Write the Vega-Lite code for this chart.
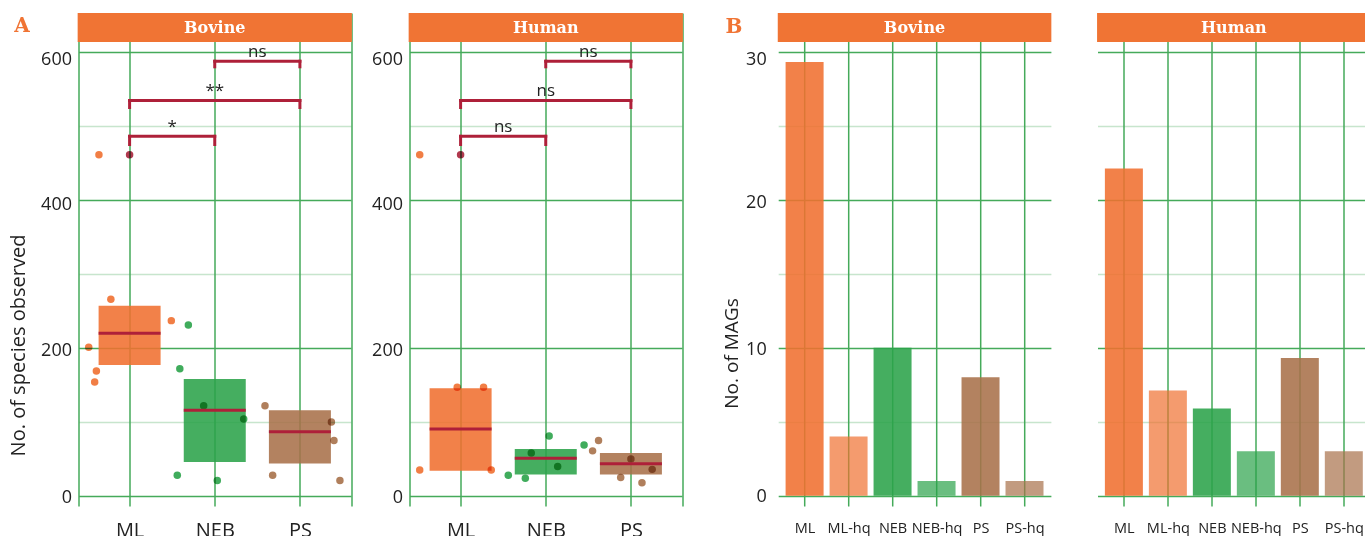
{
  "$schema": "https://vega.github.io/schema/vega-lite/v6.json",
  "padding": {"left": 8.5, "top": 13, "right": 0, "bottom": 0},
  "config": {
    "font": "Open Sans",
    "view": {"stroke": null},
    "axis": {"domain": false, "ticks": false, "labelColor": "#222", "titleColor": "#222", "titleFontWeight": "normal", "labelFont": "Open Sans", "titleFont": "Open Sans", "labelFlush": false, "labelOverlap": false}
  },
  "datasets": {
    "pts": [
      {"panel":"Bovine","grp":"ML","xj":0.64,"value":461,"outlier":false},
      {"panel":"Bovine","grp":"ML","xj":0.78,"value":266,"outlier":false},
      {"panel":"Bovine","grp":"ML","xj":0.52,"value":201,"outlier":false},
      {"panel":"Bovine","grp":"ML","xj":0.61,"value":169,"outlier":false},
      {"panel":"Bovine","grp":"ML","xj":0.59,"value":154,"outlier":false},
      {"panel":"Bovine","grp":"ML","xj":1.49,"value":237,"outlier":false},
      {"panel":"Bovine","grp":"NEB","xj":1.69,"value":231,"outlier":false},
      {"panel":"Bovine","grp":"NEB","xj":1.59,"value":172,"outlier":false},
      {"panel":"Bovine","grp":"NEB","xj":1.87,"value":122,"outlier":false},
      {"panel":"Bovine","grp":"NEB","xj":2.34,"value":104,"outlier":false},
      {"panel":"Bovine","grp":"NEB","xj":1.56,"value":28,"outlier":false},
      {"panel":"Bovine","grp":"NEB","xj":2.03,"value":21,"outlier":false},
      {"panel":"Bovine","grp":"PS","xj":2.59,"value":122,"outlier":false},
      {"panel":"Bovine","grp":"PS","xj":3.37,"value":100,"outlier":false},
      {"panel":"Bovine","grp":"PS","xj":3.40,"value":75,"outlier":false},
      {"panel":"Bovine","grp":"PS","xj":2.68,"value":28,"outlier":false},
      {"panel":"Bovine","grp":"PS","xj":3.47,"value":21,"outlier":false},
      {"panel":"Bovine","grp":"ML","xj":1.0,"value":461,"outlier":true},
      {"panel":"Human","grp":"ML","xj":0.52,"value":461,"outlier":false},
      {"panel":"Human","grp":"ML","xj":0.52,"value":35,"outlier":false},
      {"panel":"Human","grp":"ML","xj":0.96,"value":147,"outlier":false},
      {"panel":"Human","grp":"ML","xj":1.27,"value":147,"outlier":false},
      {"panel":"Human","grp":"ML","xj":1.36,"value":35,"outlier":false},
      {"panel":"Human","grp":"NEB","xj":1.56,"value":28,"outlier":false},
      {"panel":"Human","grp":"NEB","xj":1.76,"value":24,"outlier":false},
      {"panel":"Human","grp":"NEB","xj":1.83,"value":58,"outlier":false},
      {"panel":"Human","grp":"NEB","xj":2.04,"value":81,"outlier":false},
      {"panel":"Human","grp":"NEB","xj":2.14,"value":40,"outlier":false},
      {"panel":"Human","grp":"NEB","xj":2.45,"value":69,"outlier":false},
      {"panel":"Human","grp":"PS","xj":2.62,"value":75,"outlier":false},
      {"panel":"Human","grp":"PS","xj":2.55,"value":61,"outlier":false},
      {"panel":"Human","grp":"PS","xj":3.00,"value":50,"outlier":false},
      {"panel":"Human","grp":"PS","xj":3.25,"value":36,"outlier":false},
      {"panel":"Human","grp":"PS","xj":2.88,"value":25,"outlier":false},
      {"panel":"Human","grp":"PS","xj":3.13,"value":18,"outlier":false},
      {"panel":"Human","grp":"ML","xj":1.0,"value":461,"outlier":true}
    ],
    "box": [
      {"panel":"Bovine","grp":"ML","x":1,"lo":177,"mid":220,"hi":257},
      {"panel":"Bovine","grp":"NEB","x":2,"lo":46,"mid":116,"hi":158},
      {"panel":"Bovine","grp":"PS","x":3,"lo":44,"mid":87,"hi":116},
      {"panel":"Human","grp":"ML","x":1,"lo":34,"mid":90.5,"hi":145.5},
      {"panel":"Human","grp":"NEB","x":2,"lo":29,"mid":51,"hi":63.5},
      {"panel":"Human","grp":"PS","x":3,"lo":29,"mid":43.6,"hi":58}
    ],
    "brk": [
      {"panel":"Bovine","x1":1,"x2":2,"xm":1.5,"y":486,"ytip":475,"label":"*"},
      {"panel":"Bovine","x1":1,"x2":3,"xm":2,"y":534.5,"ytip":525,"label":"**"},
      {"panel":"Bovine","x1":2,"x2":3,"xm":2.5,"y":587.5,"ytip":580,"label":"ns"},
      {"panel":"Human","x1":1,"x2":2,"xm":1.5,"y":486,"ytip":475,"label":"ns"},
      {"panel":"Human","x1":1,"x2":3,"xm":2,"y":534.5,"ytip":525,"label":"ns"},
      {"panel":"Human","x1":2,"x2":3,"xm":2.5,"y":587.5,"ytip":580,"label":"ns"}
    ],
    "mag": [
      {"panel":"Bovine","cat":"ML","grp":"ML","x":1,"n":29.3,"hq":false},
      {"panel":"Bovine","cat":"ML-hq","grp":"ML","x":2,"n":4,"hq":true},
      {"panel":"Bovine","cat":"NEB","grp":"NEB","x":3,"n":10,"hq":false},
      {"panel":"Bovine","cat":"NEB-hq","grp":"NEB","x":4,"n":1,"hq":true},
      {"panel":"Bovine","cat":"PS","grp":"PS","x":5,"n":8,"hq":false},
      {"panel":"Bovine","cat":"PS-hq","grp":"PS","x":6,"n":1,"hq":true},
      {"panel":"Human","cat":"ML","grp":"ML","x":1,"n":22.1,"hq":false},
      {"panel":"Human","cat":"ML-hq","grp":"ML","x":2,"n":7.1,"hq":true},
      {"panel":"Human","cat":"NEB","grp":"NEB","x":3,"n":5.9,"hq":false},
      {"panel":"Human","cat":"NEB-hq","grp":"NEB","x":4,"n":3,"hq":true},
      {"panel":"Human","cat":"PS","grp":"PS","x":5,"n":9.3,"hq":false},
      {"panel":"Human","cat":"PS-hq","grp":"PS","x":6,"n":3,"hq":true}
    ]
  },
  "spacing": 38.7,
  "hconcat": [
    {
      "spacing": 19,
      "hconcat": [
        {
          "width": 272.5, "height": 493,
          "layer": [
            {"data": {"name": "box"}, "transform": [{"filter": "datum.panel === 'Bovine'"}],
             "mark": {"type": "bar", "width": 62, "opacity": 0.88},
             "encoding": {
               "x": {"field": "x", "type": "quantitative", "scale": {"domain": [0.4, 3.6], "nice": false, "zero": false, "padding": 0},
                     "axis": {"values": [0.4, 1, 2, 3, 3.6], "labelExpr": "datum.value == 1 ? 'ML' : datum.value == 2 ? 'NEB' : datum.value == 3 ? 'PS' : ''", "title": null, "grid": true, "gridColor": "#45AA5A", "gridWidth": 1.5, "labelFontSize": 20, "labelPadding": 14, "ticks": false, "domain": false, "labelOverlap": false, "labelFlush": false}},
               "y": {"field": "lo", "type": "quantitative", "scale": {"domain": [-13.5, 652.7], "nice": false, "zero": false, "padding": 0},
                     "axis": {"values": [0, 100, 200, 300, 400, 500, 600], "labelExpr": "datum.value % 200 == 0 ? datum.label : ''", "grid": true, "gridColor": "#45AA5A", "gridWidth": 1.5, "gridOpacity": {"condition": {"test": "datum.value % 200 == 0", "value": 1}, "value": 0.3}, "labelFontSize": 18, "labelPadding": 7, "labelOffset": {"condition": [{"test": "datum.value == 600", "value": 8}, {"test": "datum.value == 400", "value": 4}, {"test": "datum.value == 200", "value": 2}], "value": 1}, "title": "No. of species observed", "titleFontSize": 20, "titleX": -49.7, "titleY": 332, "ticks": false, "domain": false, "labelOverlap": false, "labelFlush": false}},
               "y2": {"field": "hi"},
               "color": {"field": "grp", "type": "nominal", "scale": {"domain": ["ML", "NEB", "PS"], "range": ["#F07030", "#2BA34A", "#A8714A"]}, "legend": null}
             }},
            {"data": {"name": "pts"}, "transform": [{"filter": "datum.panel === 'Bovine'"}],
             "mark": {"type": "circle", "size": 56, "opacity": 0.9, "blend": "multiply"},
             "encoding": {
               "x": {"field": "xj", "type": "quantitative"},
               "y": {"field": "value", "type": "quantitative"},
               "color": {"field": "grp", "type": "nominal", "legend": null, "condition": {"test": "datum.outlier", "value": "#A8233A"}}
             }},
            {"data": {"name": "box"}, "transform": [{"filter": "datum.panel === 'Bovine'"}],
             "mark": {"type": "tick", "orient": "horizontal", "size": 62, "thickness": 3, "color": "#AE2039", "opacity": 1},
             "encoding": {"x": {"field": "x", "type": "quantitative"}, "y": {"field": "mid", "type": "quantitative"}}},
            {"data": {"name": "brk"}, "transform": [{"filter": "datum.panel === 'Bovine'"}],
             "mark": {"type": "rule", "color": "#AE2039", "strokeWidth": 3, "strokeCap": "square"},
             "encoding": {"x": {"field": "x1", "type": "quantitative"}, "x2": {"field": "x2"}, "y": {"field": "y", "type": "quantitative"}}},
            {"data": {"name": "brk"}, "transform": [{"filter": "datum.panel === 'Bovine'"}],
             "mark": {"type": "rule", "color": "#AE2039", "strokeWidth": 3, "strokeCap": "square"},
             "encoding": {"x": {"field": "x1", "type": "quantitative"}, "y": {"field": "y", "type": "quantitative"}, "y2": {"field": "ytip"}}},
            {"data": {"name": "brk"}, "transform": [{"filter": "datum.panel === 'Bovine'"}],
             "mark": {"type": "rule", "color": "#AE2039", "strokeWidth": 3, "strokeCap": "square"},
             "encoding": {"x": {"field": "x2", "type": "quantitative"}, "y": {"field": "y", "type": "quantitative"}, "y2": {"field": "ytip"}}},
            {"data": {"name": "brk"}, "transform": [{"filter": "datum.panel === 'Bovine'"}],
             "mark": {"type": "text", "fontSize": 17, "baseline": "alphabetic", "dy": -4, "color": "#222"},
             "encoding": {"x": {"field": "xm", "type": "quantitative"}, "y": {"field": "y", "type": "quantitative"}, "text": {"field": "label"}}},
            {"data": {"values": [{"panel": "Bovine", "tag": "A"}]},
             "mark": {"type": "rect", "color": "#F07434"},
             "encoding": {"x": {"datum": 0.39, "type": "quantitative"}, "x2": {"datum": 3.61}, "y": {"datum": 613.5, "type": "quantitative"}, "y2": {"datum": 652.7}}},
            {"data": {"values": [{"panel": "Bovine", "tag": "A"}]},
             "mark": {"type": "text", "font": "DejaVu Serif", "fontWeight": "bold", "fontSize": 16, "color": "white", "baseline": "middle"},
             "encoding": {"x": {"datum": 2, "type": "quantitative"}, "y": {"datum": 633.1, "type": "quantitative"}, "text": {"field": "panel"}}},
            {"data": {"values": [{"panel": "Bovine", "tag": "A"}]},
             "mark": {"type": "text", "font": "DejaVu Serif", "fontWeight": "bold", "fontSize": 20, "color": "#F07434", "baseline": "middle"},
             "encoding": {"x": {"datum": -0.263, "type": "quantitative"}, "y": {"datum": 634.5, "type": "quantitative"}, "text": {"field": "tag"}}}
          ]
        },
        {
          "width": 272.5, "height": 493,
          "layer": [
            {"data": {"name": "box"}, "transform": [{"filter": "datum.panel === 'Human'"}],
             "mark": {"type": "bar", "width": 62, "opacity": 0.88},
             "encoding": {
               "x": {"field": "x", "type": "quantitative", "scale": {"domain": [0.4, 3.6], "nice": false, "zero": false, "padding": 0},
                     "axis": {"values": [0.4, 1, 2, 3, 3.6], "labelExpr": "datum.value == 1 ? 'ML' : datum.value == 2 ? 'NEB' : datum.value == 3 ? 'PS' : ''", "title": null, "grid": true, "gridColor": "#45AA5A", "gridWidth": 1.5, "labelFontSize": 20, "labelPadding": 14, "ticks": false, "domain": false, "labelOverlap": false, "labelFlush": false}},
               "y": {"field": "lo", "type": "quantitative", "scale": {"domain": [-13.5, 652.7], "nice": false, "zero": false, "padding": 0},
                     "axis": {"values": [0, 100, 200, 300, 400, 500, 600], "labelExpr": "datum.value % 200 == 0 ? datum.label : ''", "grid": true, "gridColor": "#45AA5A", "gridWidth": 1.5, "gridOpacity": {"condition": {"test": "datum.value % 200 == 0", "value": 1}, "value": 0.3}, "labelFontSize": 18, "labelPadding": 7, "labelOffset": {"condition": [{"test": "datum.value == 600", "value": 8}, {"test": "datum.value == 400", "value": 4}, {"test": "datum.value == 200", "value": 2}], "value": 1}, "title": null, "ticks": false, "domain": false, "labelOverlap": false, "labelFlush": false}},
               "y2": {"field": "hi"},
               "color": {"field": "grp", "type": "nominal", "scale": {"domain": ["ML", "NEB", "PS"], "range": ["#F07030", "#2BA34A", "#A8714A"]}, "legend": null}
             }},
            {"data": {"name": "pts"}, "transform": [{"filter": "datum.panel === 'Human'"}],
             "mark": {"type": "circle", "size": 56, "opacity": 0.9, "blend": "multiply"},
             "encoding": {
               "x": {"field": "xj", "type": "quantitative"},
               "y": {"field": "value", "type": "quantitative"},
               "color": {"field": "grp", "type": "nominal", "legend": null, "condition": {"test": "datum.outlier", "value": "#A8233A"}}
             }},
            {"data": {"name": "box"}, "transform": [{"filter": "datum.panel === 'Human'"}],
             "mark": {"type": "tick", "orient": "horizontal", "size": 62, "thickness": 3, "color": "#AE2039", "opacity": 1},
             "encoding": {"x": {"field": "x", "type": "quantitative"}, "y": {"field": "mid", "type": "quantitative"}}},
            {"data": {"name": "brk"}, "transform": [{"filter": "datum.panel === 'Human'"}],
             "mark": {"type": "rule", "color": "#AE2039", "strokeWidth": 3, "strokeCap": "square"},
             "encoding": {"x": {"field": "x1", "type": "quantitative"}, "x2": {"field": "x2"}, "y": {"field": "y", "type": "quantitative"}}},
            {"data": {"name": "brk"}, "transform": [{"filter": "datum.panel === 'Human'"}],
             "mark": {"type": "rule", "color": "#AE2039", "strokeWidth": 3, "strokeCap": "square"},
             "encoding": {"x": {"field": "x1", "type": "quantitative"}, "y": {"field": "y", "type": "quantitative"}, "y2": {"field": "ytip"}}},
            {"data": {"name": "brk"}, "transform": [{"filter": "datum.panel === 'Human'"}],
             "mark": {"type": "rule", "color": "#AE2039", "strokeWidth": 3, "strokeCap": "square"},
             "encoding": {"x": {"field": "x2", "type": "quantitative"}, "y": {"field": "y", "type": "quantitative"}, "y2": {"field": "ytip"}}},
            {"data": {"name": "brk"}, "transform": [{"filter": "datum.panel === 'Human'"}],
             "mark": {"type": "text", "fontSize": 17, "baseline": "alphabetic", "dy": -4, "color": "#222"},
             "encoding": {"x": {"field": "xm", "type": "quantitative"}, "y": {"field": "y", "type": "quantitative"}, "text": {"field": "label"}}},
            {"data": {"values": [{"panel": "Human"}]},
             "mark": {"type": "rect", "color": "#F07434"},
             "encoding": {"x": {"datum": 0.39, "type": "quantitative"}, "x2": {"datum": 3.61}, "y": {"datum": 613.5, "type": "quantitative"}, "y2": {"datum": 652.7}}},
            {"data": {"values": [{"panel": "Human"}]},
             "mark": {"type": "text", "font": "DejaVu Serif", "fontWeight": "bold", "fontSize": 16, "color": "white", "baseline": "middle"},
             "encoding": {"x": {"datum": 2, "type": "quantitative"}, "y": {"datum": 633.1, "type": "quantitative"}, "text": {"field": "panel"}}}
          ]
        }
      ]
    },
    {
      "spacing": 44.3,
      "hconcat": [
        {
          "width": 272.7, "height": 493,
          "layer": [
            {"mark": {"type": "rule", "color": "#45AA5A", "strokeWidth": 1.5},
             "encoding": {"x": {"datum": 0.4, "type": "quantitative"}}},
            {"mark": {"type": "rule", "color": "#45AA5A", "strokeWidth": 1.5},
             "encoding": {"x": {"datum": 6.6, "type": "quantitative"}}},
            {"data": {"name": "mag"}, "transform": [{"filter": "datum.panel === 'Bovine'"}],
             "mark": {"type": "bar", "width": 38},
             "encoding": {
               "x": {"field": "x", "type": "quantitative", "scale": {"domain": [0.4, 6.6], "nice": false, "zero": false, "padding": 0},
                     "axis": {"values": [1, 2, 3, 4, 5, 6], "labelExpr": "datum.value == 1 ? 'ML' : datum.value == 2 ? 'ML-hq' : datum.value == 3 ? 'NEB' : datum.value == 4 ? 'NEB-hq' : datum.value == 5 ? 'PS' : 'PS-hq'", "title": null, "grid": true, "gridColor": "#45AA5A", "gridWidth": 1.5, "labelFontSize": 14.5, "labelPadding": 15.5, "ticks": false, "domain": false, "labelOverlap": false, "labelFlush": false}},
               "y": {"field": "n", "type": "quantitative", "scale": {"domain": [-0.696, 32.615], "nice": false, "zero": false, "padding": 0},
                     "axis": {"values": [0, 5, 10, 15, 20, 25, 30], "labelExpr": "datum.value % 10 == 0 ? datum.label : ''", "grid": true, "gridColor": "#45AA5A", "gridWidth": 1.5, "gridOpacity": {"condition": {"test": "datum.value % 10 == 0", "value": 1}, "value": 0.3}, "labelFontSize": 18, "labelPadding": 12, "labelOffset": {"condition": [{"test": "datum.value == 30", "value": 8}, {"test": "datum.value == 20", "value": 3}, {"test": "datum.value == 10", "value": 2}], "value": 1}, "title": "No. of MAGs", "titleFontSize": 19, "titleX": -36.5, "titleY": 340, "ticks": false, "domain": false, "labelOverlap": false, "labelFlush": false}},
               "y2": {"datum": 0},
               "color": {"field": "grp", "type": "nominal", "scale": {"domain": ["ML", "NEB", "PS"], "range": ["#F07030", "#2BA34A", "#A8714A"]}, "legend": null},
               "opacity": {"condition": {"test": "datum.hq", "value": 0.7}, "value": 0.88}
             }},
            {"data": {"values": [{"panel": "Bovine", "tag": "B"}]},
             "mark": {"type": "rect", "color": "#F07434"},
             "encoding": {"x": {"datum": 0.39, "type": "quantitative"}, "x2": {"datum": 6.61}, "y": {"datum": 30.655, "type": "quantitative"}, "y2": {"datum": 32.615}}},
            {"data": {"values": [{"panel": "Bovine", "tag": "B"}]},
             "mark": {"type": "text", "font": "DejaVu Serif", "fontWeight": "bold", "fontSize": 16, "color": "white", "baseline": "middle"},
             "encoding": {"x": {"datum": 3.5, "type": "quantitative"}, "y": {"datum": 31.635, "type": "quantitative"}, "text": {"field": "panel"}}},
            {"data": {"values": [{"panel": "Bovine", "tag": "B"}]},
             "mark": {"type": "text", "font": "DejaVu Serif", "fontWeight": "bold", "fontSize": 20, "color": "#F07434", "baseline": "middle"},
             "encoding": {"x": {"datum": -0.607, "type": "quantitative"}, "y": {"datum": 31.7, "type": "quantitative"}, "text": {"field": "tag"}}}
          ]
        },
        {
          "width": 272.7, "height": 493,
          "layer": [
            {"mark": {"type": "rule", "color": "#45AA5A", "strokeWidth": 1.5},
             "encoding": {"x": {"datum": 0.4, "type": "quantitative"}}},
            {"mark": {"type": "rule", "color": "#45AA5A", "strokeWidth": 1.5},
             "encoding": {"x": {"datum": 6.6, "type": "quantitative"}}},
            {"data": {"name": "mag"}, "transform": [{"filter": "datum.panel === 'Human'"}],
             "mark": {"type": "bar", "width": 38},
             "encoding": {
               "x": {"field": "x", "type": "quantitative", "scale": {"domain": [0.4, 6.6], "nice": false, "zero": false, "padding": 0},
                     "axis": {"values": [1, 2, 3, 4, 5, 6], "labelExpr": "datum.value == 1 ? 'ML' : datum.value == 2 ? 'ML-hq' : datum.value == 3 ? 'NEB' : datum.value == 4 ? 'NEB-hq' : datum.value == 5 ? 'PS' : 'PS-hq'", "title": null, "grid": true, "gridColor": "#45AA5A", "gridWidth": 1.5, "labelFontSize": 14.5, "labelPadding": 15.5, "ticks": false, "domain": false, "labelOverlap": false, "labelFlush": false}},
               "y": {"field": "n", "type": "quantitative", "scale": {"domain": [-0.696, 32.615], "nice": false, "zero": false, "padding": 0},
                     "axis": {"values": [0, 5, 10, 15, 20, 25, 30], "labels": false, "grid": true, "gridColor": "#45AA5A", "gridWidth": 1.5, "gridOpacity": {"condition": {"test": "datum.value % 10 == 0", "value": 1}, "value": 0.3}, "title": null, "ticks": false, "domain": false}},
               "y2": {"datum": 0},
               "color": {"field": "grp", "type": "nominal", "scale": {"domain": ["ML", "NEB", "PS"], "range": ["#F07030", "#2BA34A", "#A8714A"]}, "legend": null},
               "opacity": {"condition": {"test": "datum.hq", "value": 0.7}, "value": 0.88}
             }},
            {"data": {"values": [{"panel": "Human"}]},
             "mark": {"type": "rect", "color": "#F07434"},
             "encoding": {"x": {"datum": 0.39, "type": "quantitative"}, "x2": {"datum": 6.61}, "y": {"datum": 30.655, "type": "quantitative"}, "y2": {"datum": 32.615}}},
            {"data": {"values": [{"panel": "Human"}]},
             "mark": {"type": "text", "font": "DejaVu Serif", "fontWeight": "bold", "fontSize": 16, "color": "white", "baseline": "middle"},
             "encoding": {"x": {"datum": 3.5, "type": "quantitative"}, "y": {"datum": 31.635, "type": "quantitative"}, "text": {"field": "panel"}}}
          ]
        }
      ]
    }
  ]
}
